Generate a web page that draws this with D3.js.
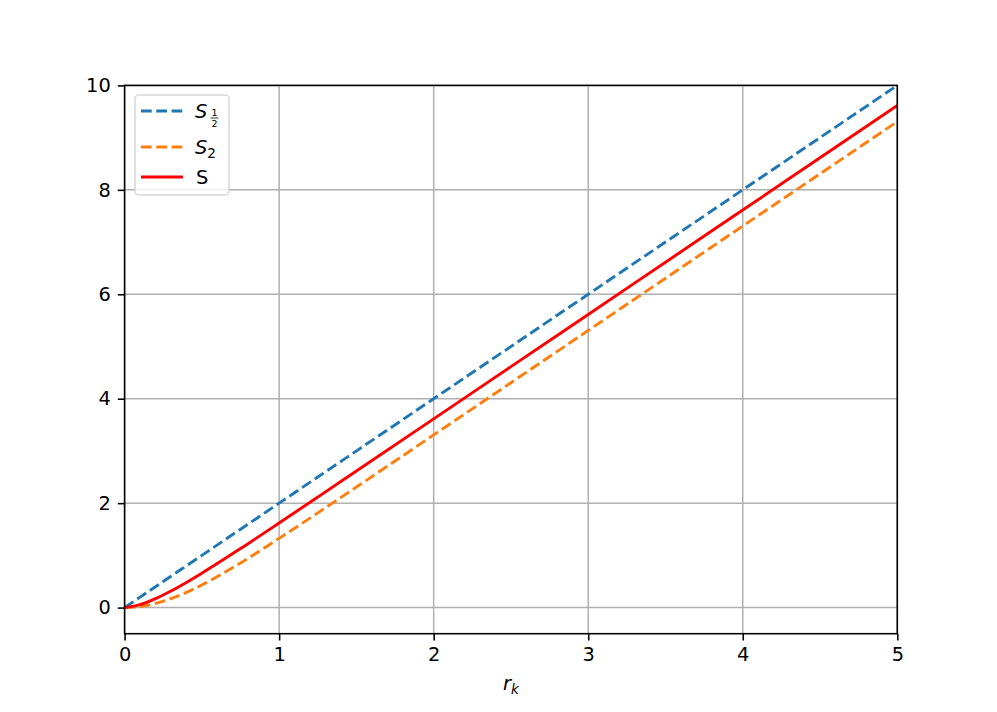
<!DOCTYPE html>
<html><head><meta charset="utf-8">
<script src="https://cdn.jsdelivr.net/npm/d3@7"></script>
<style>body{margin:0;background:#fff}svg{display:block}</style>
</head><body>
<script>
// Data
const rValues = [0, 0.1, 0.2, 0.3, 0.4, 0.5, 0.75, 1, 1.25, 1.5, 2, 2.5, 3, 3.5, 4, 4.5, 5];
const sHalf   = [0, 0.2, 0.4, 0.6, 0.8, 1.0, 1.5, 2.0, 2.5, 3.0, 4.0, 5.0, 6.0, 7.0, 8.0, 9.0, 10.0];
const sTwo    = [0, 0.020, 0.078, 0.170, 0.291, 0.434, 0.855, 1.325, 1.814, 2.309, 3.307, 4.307, 5.307, 6.307, 7.307, 8.307, 9.307];
const sVN     = [0, 0.056, 0.171, 0.317, 0.482, 0.659, 1.130, 1.620, 2.116, 2.615, 3.614, 4.614, 5.614, 6.614, 7.614, 8.614, 9.614];
const xTicks = [0, 1, 2, 3, 4, 5];
const yTicks = [0, 2, 4, 6, 8, 10];

const W = 997, H = 712;
const L = 124.6, R = 897.3, T = 85.4, B = 633.7;
const FS = 19.4, SUB = 13.6, LW = 2.9;
const svg = d3.select("body").append("svg").attr("width", W).attr("height", H)
  .style("font-family", "'DejaVu Sans', sans-serif");

const x = d3.scaleLinear().domain([0, 5]).range([L, R]);
const y = d3.scaleLinear().domain([-0.5, 10]).range([B, T]);

// grid
const g = svg.append("g");
g.selectAll(".gx").data(xTicks).join("line")
  .attr("x1", d => x(d)).attr("x2", d => x(d)).attr("y1", T).attr("y2", B)
  .attr("stroke", "#b0b0b0").attr("stroke-width", 1.5);
g.selectAll(".gy").data(yTicks).join("line")
  .attr("x1", L).attr("x2", R).attr("y1", d => y(d)).attr("y2", d => y(d))
  .attr("stroke", "#b0b0b0").attr("stroke-width", 1.5);

// clip
svg.append("clipPath").attr("id", "clip").append("rect")
  .attr("x", L).attr("y", T).attr("width", R - L).attr("height", B - T);

const line = d3.line().x((d, i) => x(rValues[i])).y(d => y(d)).curve(d3.curveMonotoneX);
const series = [
  {vals: sHalf, color: "#1f77b4", dash: "10.7,4.6"},
  {vals: sTwo, color: "#ff7f0e", dash: "10.7,4.6"},
  {vals: sVN, color: "#ff0000", dash: null}
];
const pg = svg.append("g").attr("clip-path", "url(#clip)");
series.forEach(s => {
  pg.append("path").attr("d", line(s.vals)).attr("fill", "none")
    .attr("stroke", s.color).attr("stroke-width", LW)
    .attr("stroke-dasharray", s.dash);
});

// axes
const xAxis = d3.axisBottom(x).tickValues(xTicks).tickSize(6.8).tickPadding(7).tickFormat(d3.format("d"));
const yAxis = d3.axisLeft(y).tickValues(yTicks).tickSize(6.8).tickPadding(7).tickFormat(d3.format("d"));
const xa = svg.append("g").attr("transform", `translate(0,${B})`).call(xAxis);
const ya = svg.append("g").attr("transform", `translate(${L},0)`).call(yAxis);
[xa, ya].forEach(a => {
  a.attr("font-size", null).attr("font-family", null);
  a.select(".domain").remove();
  a.selectAll(".tick line").attr("stroke", "#000").attr("stroke-width", 1.56);
  a.selectAll(".tick text").attr("fill", "#000").style("font-size", FS + "px")
    .style("font-family", "'DejaVu Sans', sans-serif");
});
// frame
svg.append("rect").attr("x", L).attr("y", T).attr("width", R - L).attr("height", B - T)
  .attr("fill", "none").attr("stroke", "#000").attr("stroke-width", 1.56);

// x label
const xl = svg.append("text").attr("x", (L + R) / 2).attr("y", 690).attr("text-anchor", "middle")
  .style("font-size", FS + "px").style("font-style", "italic");
xl.append("tspan").text("r");
xl.append("tspan").attr("dy", 4).style("font-size", SUB + "px").text("k");

// legend
const lg = svg.append("g");
lg.append("rect").attr("x", 135).attr("y", 95).attr("width", 94).attr("height", 100)
  .attr("rx", 4).attr("fill", "#fff").attr("fill-opacity", 0.8)
  .attr("stroke", "#d6d6d6").attr("stroke-width", 1.5);
const rows = [111, 147, 177];
series.forEach((s, i) => {
  lg.append("line").attr("x1", 141).attr("x2", 183).attr("y1", rows[i]).attr("y2", rows[i])
    .attr("stroke", s.color).attr("stroke-width", LW).attr("stroke-dasharray", s.dash);
});
// S_{1/2}
lg.append("text").attr("x", 195).attr("y", rows[0] + 7).style("font-size", FS + "px")
  .style("font-style", "italic").text("S");
lg.append("text").attr("x", 214.5).attr("y", rows[0] + 5).attr("text-anchor", "middle")
  .style("font-size", "9.5px").text("1");
lg.append("line").attr("x1", 210.5).attr("x2", 218.5).attr("y1", rows[0] + 7).attr("y2", rows[0] + 7)
  .attr("stroke", "#000").attr("stroke-width", 0.8);
lg.append("text").attr("x", 214.5).attr("y", rows[0] + 15.5).attr("text-anchor", "middle")
  .style("font-size", "9.5px").text("2");
// S_2
const t2 = lg.append("text").attr("x", 195).attr("y", rows[1] + 7).style("font-size", FS + "px");
t2.append("tspan").style("font-style", "italic").text("S");
t2.append("tspan").attr("dy", 4).style("font-size", SUB + "px").text("2");
// S
lg.append("text").attr("x", 196).attr("y", rows[2] + 7).style("font-size", FS + "px").text("S");
</script>
</body></html>
